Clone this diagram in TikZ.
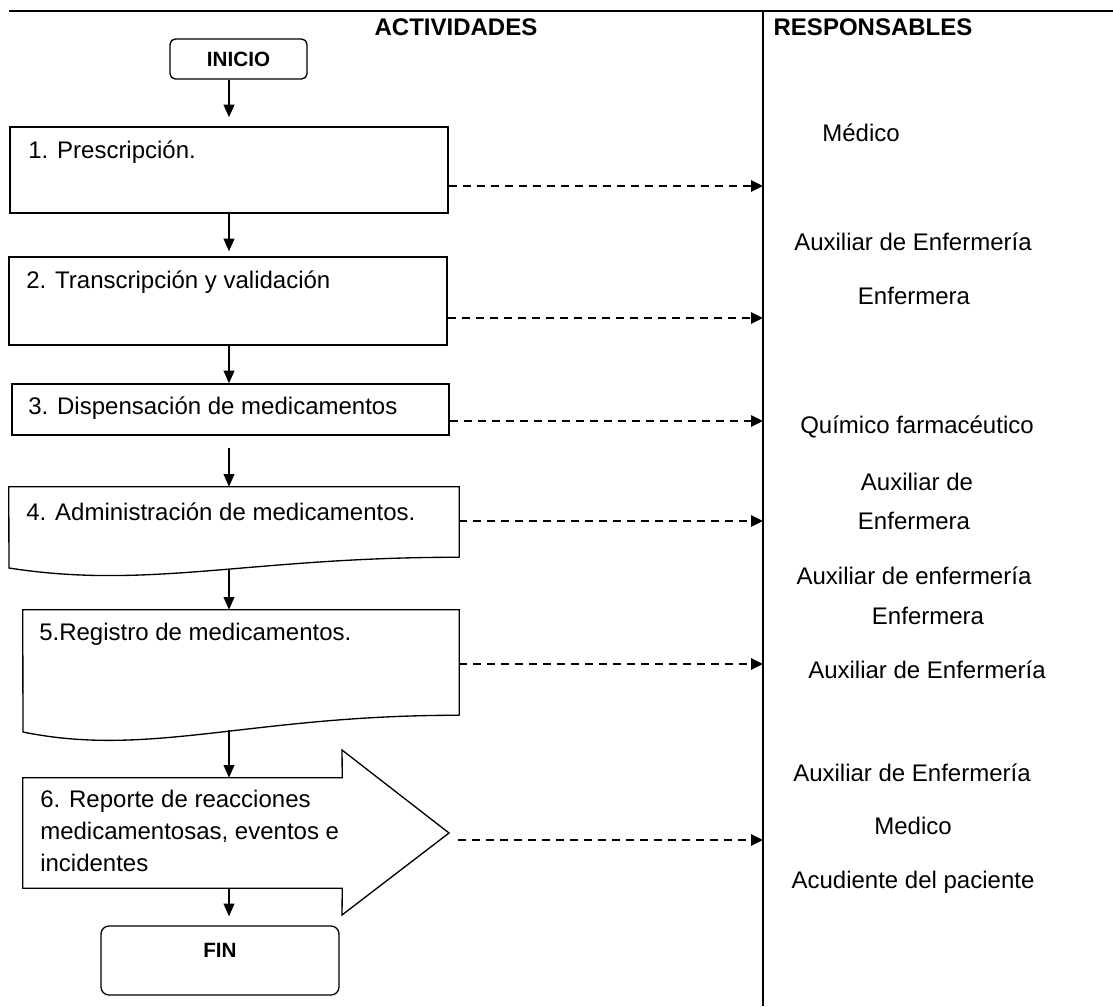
\documentclass[tikz,border=0pt]{standalone}
\usepackage{fontspec}
\setmainfont{Liberation Sans}
\usetikzlibrary{arrows.meta,positioning,calc}

\begin{document}
\begin{tikzpicture}[x=0.75pt, y=-0.75pt,
    startstop/.style={rectangle, rounded corners=4pt, draw=black, line width=1pt, font=\fontsize{15.5}{18}\selectfont\bfseries, inner sep=0pt},
    process/.style={rectangle, draw=black, line width=1pt, inner sep=0pt},
    shapebox/.style={rectangle, draw=none, inner sep=0pt},
    outline/.style={draw=black, line width=1pt},
    steptext/.style={anchor=west, font=\fontsize{18}{24}\selectfont, align=left, inner sep=0pt},
    roletext/.style={font=\fontsize{18}{22}\selectfont, inner sep=0pt},
    header/.style={font=\fontsize{18}{22}\selectfont\bfseries, inner sep=0pt},
    arrow/.style={line width=1.2pt, -{Triangle[length=9.5pt, width=8pt]}},
    dasharrow/.style={line width=1.5pt, dash pattern=on 6pt off 4.5pt, -{Triangle[length=9pt, width=8.5pt]}},
    rule/.style={line width=1.9pt}
]
    \useasboundingbox (0,0) rectangle (1113,1006);

    % Table frame
    \coordinate (ruleleft) at (9,11);
    \coordinate (ruleright) at (1113,11);
    \coordinate (divtop) at (763,11);
    \coordinate (divbot) at (763,1006);
    \draw[rule] (ruleleft) -- (ruleright);
    \draw[line width=1.7pt] (divtop) -- (divbot);

    \node[header] (actividades) at (456,27) {ACTIVIDADES};
    \node[header] (responsables) at (873,27) {RESPONSABLES};

    % Activity boxes
    \node[startstop, minimum width=102.75pt, minimum height=30pt] (inicio) at (238.5,59) {INICIO};
    \node[process, minimum width=328.5pt, minimum height=64.5pt] (p1) at (229,170) {};
    \node[process, minimum width=328.5pt, minimum height=66pt] (p2) at (228,301) {};
    \node[process, minimum width=327.75pt, minimum height=38.25pt] (p3) at (230.5,409.5) {};
    \node[shapebox, minimum width=337.5pt, minimum height=52.5pt] (d4) at (234,522) {};
    \node[shapebox, minimum width=327pt, minimum height=78.75pt] (d5) at (241,662.5) {};
    \node[shapebox, minimum width=239.25pt, minimum height=82.5pt] (s6) at (182.5,833) {};
    \node[startstop, rounded corners=6pt, minimum width=178.5pt, minimum height=51.75pt] (fin) at (220,960.5) {};

    % Document and arrow outlines
    \draw[outline] (d4.south east) -- (d4.north east) -- (d4.north west) -- (9,568)
        .. controls (150,590) and (250,557) .. (d4.south east);
    \draw[outline] (d5.south east) -- (d5.north east) -- (d5.north west) -- (23,732)
        .. controls (150,758) and (250,715) .. (d5.south east);
    \coordinate (tip6) at (449,833);
    \draw[outline] (s6.north west) -- (s6.north east) -- (342,750) -- (tip6)
        -- (342,915) -- (s6.south east) -- (s6.south west) -- cycle;

    % Activity texts
    \node[steptext] (t1) at (28,152) {1. Prescripción.};
    \node[steptext] (t2) at (26,282) {2. Transcripción y validación};
    \node[steptext] (t3) at (28,408) {3. Dispensación de medicamentos};
    \node[steptext] (t4) at (26,512) {4. Administración de medicamentos.};
    \node[steptext] (t5) at (39,634) {5.Registro de medicamentos.};
    \node[steptext] (t6) at (40,831) {6. Reporte de reacciones\\medicamentosas, eventos e\\incidentes};
    \node[font=\fontsize{15.5}{18}\selectfont\bfseries, inner sep=0pt] (tfin) at (220,950) {FIN};

    % Flow
    \coordinate (axis) at (229,0);
    \coordinate (w4) at (229,569);
    \coordinate (w5) at (229,730);
    \draw[arrow, shorten >=6.75pt] (inicio.south -| axis) -- (p1.north -| axis);
    \draw[arrow, shorten >=3.75pt] (p1.south -| axis) -- (p2.north -| axis);
    \draw[arrow] (p2.south -| axis) -- (p3.north -| axis);
    \draw[arrow, shorten <=9pt] (p3.south -| axis) -- (d4.north -| axis);
    \draw[arrow] (w4) -- (d5.north -| axis);
    \draw[arrow] (w5) -- (s6.north -| axis);
    \draw[arrow, shorten >=6.75pt] (s6.south -| axis) -- (fin.north -| axis);

    % Links to responsables
    \coordinate (r1) at (763,186);
    \coordinate (r2) at (763,318);
    \coordinate (r3) at (763,421);
    \coordinate (r4) at (763,521);
    \coordinate (r5) at (763,664);
    \coordinate (r6) at (763,840);
    \coordinate (s6out) at (458,840);
    \draw[dasharrow] (p1.east |- r1) -- (r1);
    \draw[dasharrow] (p2.east |- r2) -- (r2);
    \draw[dasharrow] (p3.east |- r3) -- (r3);
    \draw[dasharrow] (d4.east |- r4) -- (r4);
    \draw[dasharrow] (d5.east |- r5) -- (r5);
    \draw[dasharrow] (s6out) -- (r6);

    % Responsables
    \node[roletext] (m1)  at (861,133) {Médico};
    \node[roletext] (a2)  at (913,242) {Auxiliar de Enfermería};
    \node[roletext] (e2)  at (914,296) {Enfermera};
    \node[roletext] (q3)  at (917,427) {Químico farmacéutico};
    \node[roletext] (a4)  at (917,482) {Auxiliar de};
    \node[roletext] (e4)  at (914,521) {Enfermera};
    \node[roletext] (a5a) at (914,576) {Auxiliar de enfermería};
    \node[roletext] (e5)  at (928,616) {Enfermera};
    \node[roletext] (a5b) at (927,670) {Auxiliar de Enfermería};
    \node[roletext] (a6)  at (912,773) {Auxiliar de Enfermería};
    \node[roletext] (m6)  at (913,826) {Medico};
    \node[roletext] (c6)  at (913,882) {Acudiente del paciente};

\end{tikzpicture}
\end{document}
